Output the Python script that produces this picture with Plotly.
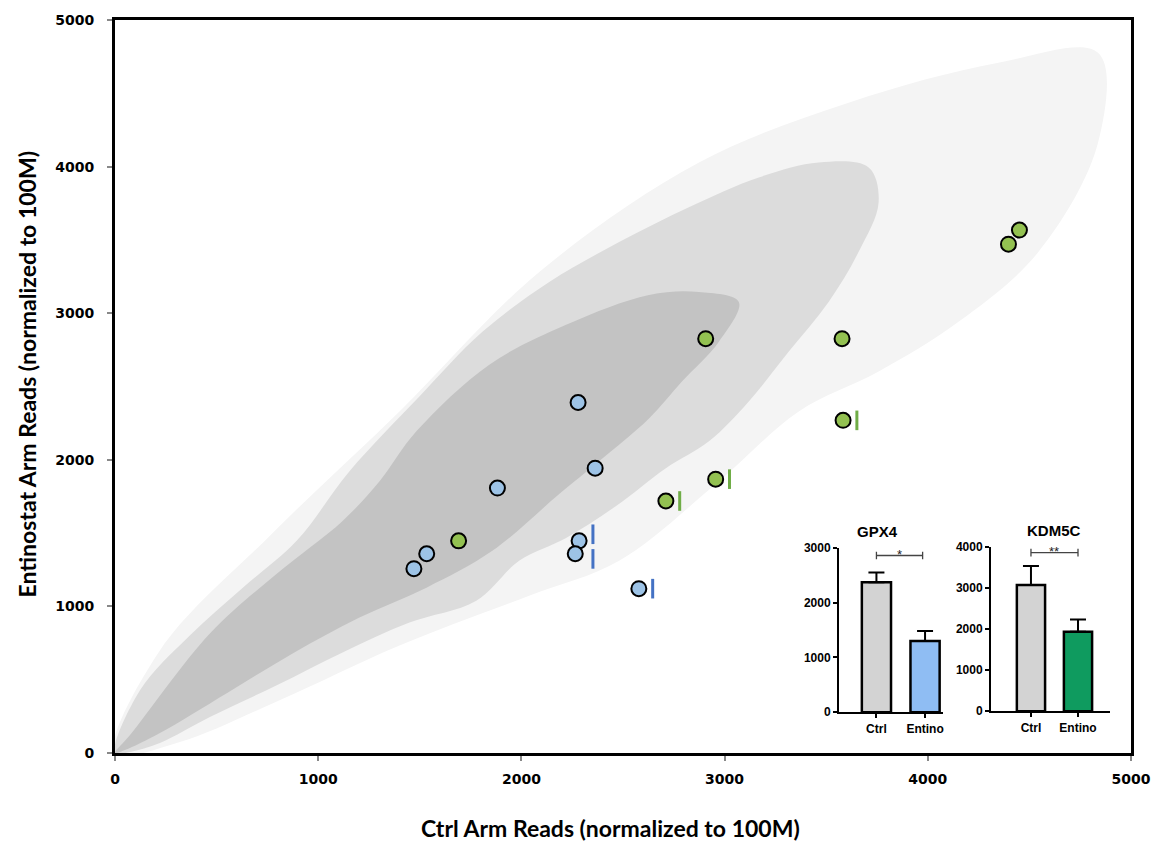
import plotly.graph_objects as go

# ---------------- data ----------------
# Background gene cloud, approximated by density envelopes (data units)
halo_x = [0, 221, 761, 1400, 2088, 2874, 3610, 4347, 4838, 4838, 4544, 4151, 3758, 3365, 2972,
          2481, 2038, 1400, 810, 319]
halo_y = [0, 700, 1481, 2330, 3281, 4028, 4436, 4708, 4776, 4164, 3417, 2941, 2602, 2330, 1854,
          1311, 1073, 734, 360, 75]

mid_x = [0, 123, 368, 629, 894, 1154, 1498, 1808, 2137, 2481, 2824, 3168, 3463, 3709, 3758, 3659,
         3512, 3316, 3119, 2923, 2711, 2466, 2220, 1989, 1778, 1449, 1120, 796, 467, 221, 74]
mid_y = [0, 428, 802, 1128, 1447, 1922, 2432, 2873, 3213, 3485, 3723, 3926, 4028, 3994, 3757, 3417,
         3077, 2738, 2398, 2126, 1943, 1685, 1467, 1311, 1039, 890, 686, 462, 245, 68, 7]

core_x = [0, 74, 467, 796, 1120, 1302, 1483, 1842, 2220, 2628, 2874, 3070, 2972, 2790, 2628, 2382,
          2186, 1857, 1533, 1203, 874, 550, 221, 49]
core_y = [0, 122, 815, 1223, 1583, 1854, 2194, 2649, 2921, 3125, 3145, 3077, 2806, 2534, 2282, 1990,
          1766, 1379, 1128, 924, 679, 408, 136, 20]

# Highlighted genes
blue_x = [1471, 1534, 2279, 2363, 1882, 2284, 2265, 2578]
blue_y = [1257, 1359, 2391, 1943, 1807, 1447, 1359, 1121]
blue_flag = [False, False, False, False, False, True, True, True]

green_x = [1691, 2711, 2956, 2907, 3578, 3583, 4397, 4451]
green_y = [1447, 1719, 1868, 2826, 2826, 2269, 3471, 3567]
green_flag = [False, True, True, False, False, True, False, False]

# Inset bar charts
bar_groups = ["Ctrl", "Entino"]
gpx4_mean = [2370, 1300]
gpx4_err = [180, 180]
gpx4_sig = "*"
kdm5c_mean = [3070, 1930]
kdm5c_err = [460, 300]
kdm5c_sig = "**"

main_ticks = [0, 1000, 2000, 3000, 4000, 5000]

# ---------------- figure ----------------
BLUE_FILL = "#9DC3E6"
GREEN_FILL = "#93C151"
BLUE_TICK = "#4472C4"
GREEN_TICK = "#70AD47"

fig = go.Figure()

for xs, ys, col in [(halo_x, halo_y, "#f4f4f4"), (mid_x, mid_y, "#dcdcdc"), (core_x, core_y, "#c3c3c3")]:
    fig.add_trace(go.Scatter(x=xs + xs[:1], y=ys + ys[:1], mode="lines", fill="toself",
                             fillcolor=col, line=dict(width=0, color=col), line_shape="spline",
                             hoverinfo="skip", showlegend=False))

TICK_DX = 68
# nudges (data units) for the two overlapping flagged blue genes
blue_nudge = {5: (0, 45), 6: (19, -35)}

bmx, bmy = [], []
for i, f in enumerate(blue_flag):
    if f:
        dx, dy = blue_nudge.get(i, (0, 0))
        bmx.append(blue_x[i] + TICK_DX + dx)
        bmy.append(blue_y[i] + dy)
gmx = [green_x[i] + TICK_DX for i, f in enumerate(green_flag) if f]
gmy = [green_y[i] for i, f in enumerate(green_flag) if f]

fig.add_trace(go.Scatter(x=bmx, y=bmy, mode="markers", showlegend=False, hoverinfo="skip",
                         marker=dict(symbol="line-ns", size=14, line=dict(width=3, color=BLUE_TICK))))
fig.add_trace(go.Scatter(x=gmx, y=gmy, mode="markers", showlegend=False, hoverinfo="skip",
                         marker=dict(symbol="line-ns", size=14, line=dict(width=3, color=GREEN_TICK))))

fig.add_trace(go.Scatter(x=blue_x, y=blue_y, mode="markers", showlegend=False,
                         marker=dict(size=15, color=BLUE_FILL, line=dict(width=2, color="black"))))
fig.add_trace(go.Scatter(x=green_x, y=green_y, mode="markers", showlegend=False,
                         marker=dict(size=15, color=GREEN_FILL, line=dict(width=2, color="black"))))

# inset bars
def add_inset(mean, err, colors, xa, ya, sig, sig_y, sig_x1, drop):
    fig.add_trace(go.Bar(x=[0, 1], y=mean, width=0.6, xaxis=xa, yaxis=ya, showlegend=False,
                         marker=dict(color=colors, line=dict(color="black", width=2.5)),
                         error_y=dict(type="data", symmetric=False, array=err, arrayminus=[0, 0],
                                      color="black", thickness=2, width=8)))
    fig.add_trace(go.Scatter(x=[0, 0, None, 0, sig_x1, None, sig_x1, sig_x1],
                             y=[sig_y - drop, sig_y + drop, None, sig_y, sig_y, None, sig_y - drop, sig_y + drop],
                             mode="lines", line=dict(color="#444444", width=1.3),
                             xaxis=xa, yaxis=ya, showlegend=False, hoverinfo="skip"))
    fig.add_annotation(x=sig_x1 / 2, y=sig_y, xref=xa, yref=ya, text=sig, showarrow=False,
                       yanchor="middle", yshift=1,
                       font=dict(size=13, color="#222222", family="Liberation Sans"))

add_inset(gpx4_mean, gpx4_err, ["#d3d3d3", "#8FBDF3"], "x2", "y2", gpx4_sig, 2860, 0.95, 70)
add_inset(kdm5c_mean, kdm5c_err, ["#d3d3d3", "#0F9B5F"], "x3", "y3", kdm5c_sig, 3860, 1.0, 95)

main_tick_font = dict(family="DejaVu Sans", size=14, color="black")
title_font = dict(family="Lato", size=23, color="black")

fig.update_layout(
    width=1166, height=841,
    margin=dict(l=115, r=35, t=17, b=88),
    paper_bgcolor="white", plot_bgcolor="white",
    showlegend=False,
    xaxis=dict(range=[0, 5000], tickvals=main_ticks, ticktext=[f"<b>{t}</b>" for t in main_ticks],
               tickfont=main_tick_font, showgrid=False, zeroline=False,
               showline=True, linecolor="black", linewidth=3, mirror=True,
               ticks="outside", ticklen=5, tickwidth=1.5, tickcolor="#888", ticklabelstandoff=6),
    yaxis=dict(range=[0, 5000], tickvals=main_ticks, ticktext=[f"<b>{t}</b>" for t in main_ticks],
               tickfont=main_tick_font, showgrid=False, zeroline=False,
               showline=True, linecolor="black", linewidth=3, mirror=True,
               ticks="outside", ticklen=5, tickwidth=1.5, tickcolor="#888", ticklabelstandoff=10),
)

fig.add_annotation(text="<b>Ctrl Arm Reads (normalized to 100M)</b>", xref="paper", yref="paper",
                   x=(610 - 115) / 1016, y=-(828 - 753) / 736, xanchor="center", yanchor="middle",
                   showarrow=False, font=title_font)
fig.add_annotation(text="<b>Entinostat Arm Reads (normalized to 100M)</b>", xref="paper", yref="paper",
                   x=-(115 - 27) / 1016, y=(753 - 373) / 736, xanchor="center", yanchor="middle",
                   textangle=-90, showarrow=False, font=title_font)

inset_tick_font = dict(family="Liberation Sans", size=12, color="black")
common_x = dict(showgrid=False, zeroline=False, showline=True, linecolor="black", linewidth=2,
                tickvals=[0, 1], ticktext=[f"<b>{g}</b>" for g in bar_groups], tickfont=inset_tick_font,
                ticks="outside", ticklen=4, tickwidth=1.5, tickcolor="black")
common_y = dict(showgrid=False, zeroline=False, showline=True, linecolor="black", linewidth=2,
                tickfont=inset_tick_font, ticks="outside", ticklen=4, tickwidth=1.5, tickcolor="black")

fig.update_layout(
    xaxis2=dict(common_x, domain=[0.7126, 0.815], range=[-0.77, 1.37], anchor="y2"),
    yaxis2=dict(common_y, domain=[0.0557, 0.2799], range=[0, 3000], tickvals=[0, 1000, 2000, 3000],
                ticktext=["<b>0</b>", "<b>1000</b>", "<b>2000</b>", "<b>3000</b>"], anchor="x2"),
    xaxis3=dict(common_x, domain=[0.8622, 0.9793], range=[-0.85, 1.68], anchor="y3"),
    yaxis3=dict(common_y, domain=[0.0571, 0.2813], range=[0, 4000], tickvals=[0, 1000, 2000, 3000, 4000],
                ticktext=["<b>0</b>", "<b>1000</b>", "<b>2000</b>", "<b>3000</b>", "<b>4000</b>"], anchor="x3"),
)

fig.add_annotation(text="<b>GPX4</b>", xref="x2 domain", yref="y2 domain", x=0.37, y=1.0, yshift=27,
                   showarrow=False, font=dict(family="Liberation Sans", size=15, color="black"))
fig.add_annotation(text="<b>KDM5C</b>", xref="x3 domain", yref="y3 domain", x=0.29, y=1.0, yshift=27,
                   showarrow=False, font=dict(family="Liberation Sans", size=15, color="black"))

fig.write_html("out.html")
